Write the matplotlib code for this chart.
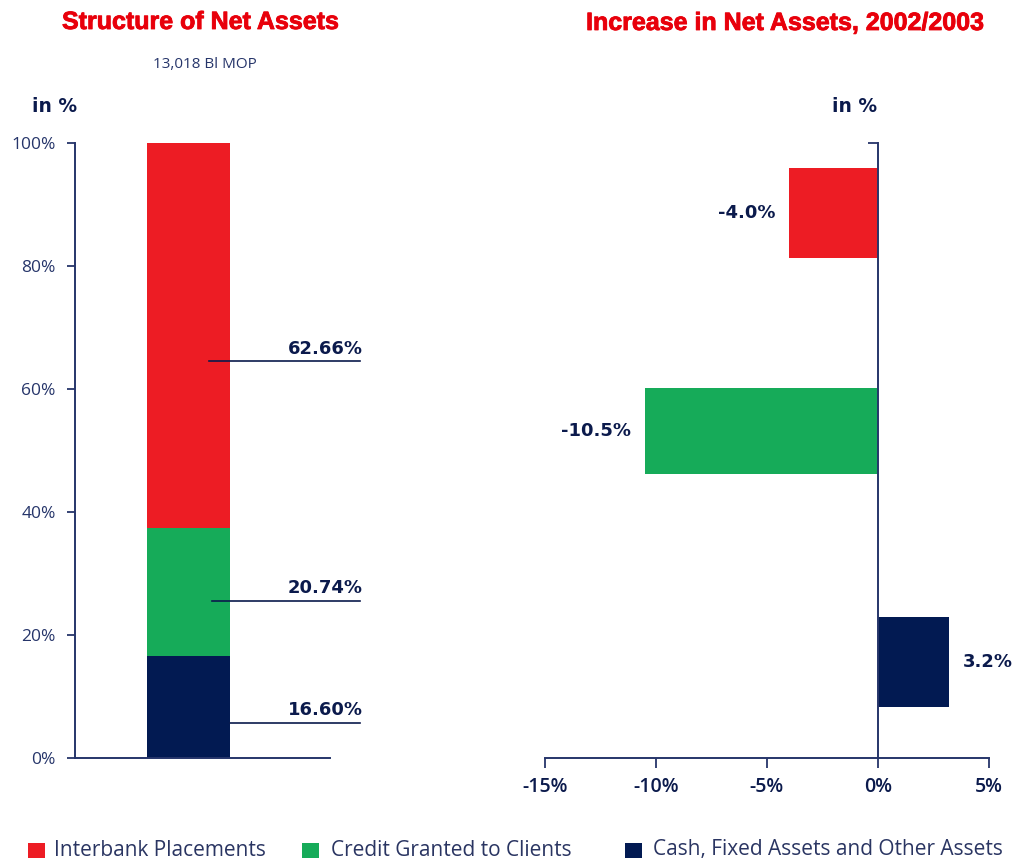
import matplotlib
matplotlib.use("Agg")
import matplotlib.pyplot as plt
import matplotlib.patheffects as pe
from matplotlib.patches import Rectangle
import numpy as np

# categories and values
categories = ['Interbank Placements', 'Credit Granted to Clients',
              'Cash, Fixed Assets and Other Assets']
structure_pct = [62.66, 20.74, 16.60]
increase_pct = [-4.0, -10.5, 3.2]
total_assets = '13,018 Bl MOP'

colors = ['#ED1C24', '#16AB59', '#021A52']
navy = '#0B1A4C'
axis_col = '#26356A'
title_red = '#E8000B'

W, H = 1019, 861
fig = plt.figure(figsize=(W / 100, H / 100), dpi=100)


def box(left, top, right, bottom):
    # pixel box -> figure fraction rect
    return [left / W, 1 - bottom / H, (right - left) / W, (bottom - top) / H]


def fx(x):
    return x / W


def fy(y):
    return 1 - y / H


# ---- left: structure of net assets (stacked bar) ----
ax1 = fig.add_axes(box(75, 143, 330, 758))
bottom = 0
for i in reversed(range(len(categories))):
    ax1.bar(0, structure_pct[i], width=1, bottom=bottom, color=colors[i],
            linewidth=0, zorder=2)
    bottom += structure_pct[i]

ax1.set_xlim(-1.367, 1.705)
ax1.set_ylim(0, 100)
ax1.set_xticks([])
ax1.set_yticks(np.arange(0, 101, 20))
ax1.set_yticklabels([f'{t}%' for t in range(0, 101, 20)],
                    family=['Open Sans', 'DejaVu Sans'], fontsize=12.5,
                    color=axis_col)
ax1.tick_params(axis='y', direction='out', length=6, width=1.3,
                color=axis_col, pad=8)
for s in ['top', 'right']:
    ax1.spines[s].set_visible(False)
for s in ['left', 'bottom']:
    ax1.spines[s].set_color(axis_col)
    ax1.spines[s].set_linewidth(1.4)

# leader lines with the share labels
leader_y = [64.5, 25.6, 5.7]
leader_x0 = [0.25, 0.28, 0.5]
for i, v in enumerate(structure_pct):
    ax1.plot([leader_x0[i], 2.07], [leader_y[i], leader_y[i]], color=navy,
             lw=1.2, clip_on=False, zorder=3)
    ax1.text(2.1, leader_y[i] + 0.6, f'{v:.2f}%', ha='right', va='bottom',
             fontsize=13, fontweight='bold', color=navy, clip_on=False)

# ---- right: increase in net assets ----
ax2 = fig.add_axes(box(544.7, 143, 988.7, 758))
bar_y = [88.6, 53.2, 15.6]
bar_h = [14.7, 14.0, 14.6]
ax2.barh(bar_y, increase_pct, height=bar_h, color=colors, linewidth=0,
         zorder=1)
ax2.set_xlim(-15, 5)
ax2.set_ylim(0, 100)
ax2.spines['left'].set_position(('data', 0))
ax2.spines['left'].set_zorder(3)
for s in ['top', 'right']:
    ax2.spines[s].set_visible(False)
for s in ['left', 'bottom']:
    ax2.spines[s].set_color(axis_col)
    ax2.spines[s].set_linewidth(1.4)
ax2.set_yticks([100])
ax2.set_yticklabels([''])
ax2.tick_params(axis='y', direction='out', length=7, width=1.3,
                color=axis_col)
ax2.set_xticks([-15, -10, -5, 0, 5])
ax2.set_xticklabels(['-15%', '-10%', '-5%', '0%', '5%'],
                    family=['Open Sans', 'DejaVu Sans'], fontsize=14,
                    fontweight='semibold', color=navy)
ax2.tick_params(axis='x', direction='out', length=7.5, width=1.3,
                color=axis_col, pad=6)

for y, v in zip(bar_y, increase_pct):
    off = 10 if v >= 0 else -10
    ax2.annotate(f'{v:.1f}%', xy=(v, y), xytext=(off, 0),
                 textcoords='offset points',
                 ha='left' if v >= 0 else 'right', va='center',
                 fontsize=13, fontweight='bold', color=navy)

# ---- titles and headers ----
heavy = [pe.withStroke(linewidth=0.6, foreground=title_red)]
fig.text(fx(200.5), fy(22), 'Structure of Net Assets', ha='center',
         va='center', family='Liberation Sans', fontweight='bold',
         fontsize=18, color=title_red, path_effects=heavy)
fig.text(fx(785), fy(23), 'Increase in Net Assets, 2002/2003', ha='center',
         va='center', family='Liberation Sans', fontweight='bold',
         fontsize=18, color=title_red, path_effects=heavy)
fig.text(fx(205), fy(65), total_assets, ha='center', va='center',
         family=['Open Sans', 'DejaVu Sans'], fontsize=11, color=axis_col)
fig.text(fx(55), fy(107), 'in %', ha='center', va='center', fontsize=13.5,
         fontweight='bold', color=navy)
fig.text(fx(855), fy(107), 'in %', ha='center', va='center', fontsize=13.5,
         fontweight='bold', color=navy)

# ---- legend ----
sq_x = [28, 302, 625]
txt_x = [54, 331, 653]
for i, name in enumerate(categories):
    fig.patches.append(Rectangle((fx(sq_x[i]), fy(858)), 17 / W, 15 / H,
                                 transform=fig.transFigure,
                                 color=colors[i], linewidth=0))
    fig.text(fx(txt_x[i]), fy(850), name, ha='left', va='center',
             family=['Open Sans', 'DejaVu Sans'], fontsize=15,
             color='#2A3562')

fig.savefig('out.png', dpi=100)
